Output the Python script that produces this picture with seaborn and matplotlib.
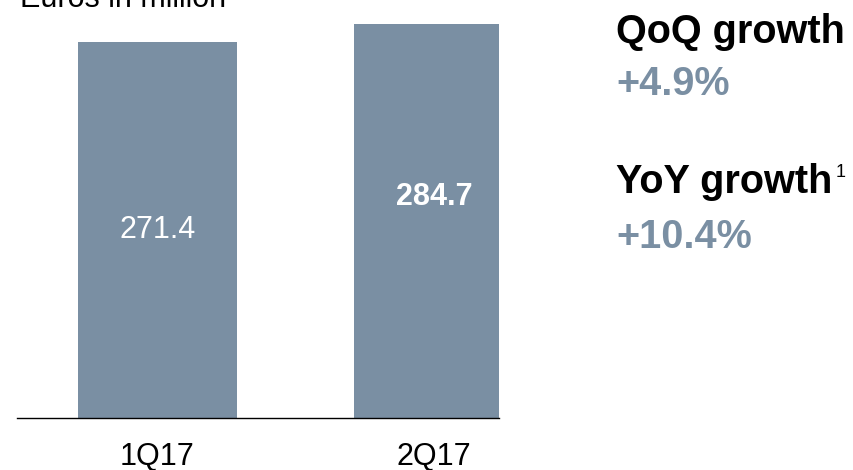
import matplotlib
matplotlib.use("Agg")
import matplotlib.pyplot as plt
import seaborn as sns
import pandas as pd

categories = ["1Q17", "2Q17"]
values = [271.4, 284.7]
value_labels = ["271.4", "284.7"]
label_bold = [False, True]
label_pos_frac = [0.50, 0.562]
unit_title = "Euros in million"
qoq_title = "QoQ growth"
qoq_value = "+4.9%"
yoy_title = "YoY growth"
yoy_value = "+10.4%"
footnote_mark = "1"

BAR = "#7A8FA3"

sns.set_theme(style="white")
plt.rcParams["font.family"] = ["Liberation Sans", "DejaVu Sans"]

W, H = 854, 470
fig = plt.figure(figsize=(W / 100, H / 100), dpi=100)
ax = fig.add_axes([17 / W, (H - 418) / H, (499 - 17) / W, 418 / H])

df = pd.DataFrame({"cat": categories, "val": values})
sns.barplot(data=df, x="cat", y="val", color=BAR, saturation=1, width=0.577, ax=ax)
for p in ax.patches:
    p.set_edgecolor("none")

ax.set_xlim(-0.508, 1.235)
ax.set_ylim(0, 302)
for s in ["top", "right", "left"]:
    ax.spines[s].set_visible(False)
ax.spines["bottom"].set_color("black")
ax.spines["bottom"].set_linewidth(1.0)
ax.set_yticks([])
ax.set_xlabel("")
ax.set_ylabel("")
ax.tick_params(axis="x", length=0, pad=17, labelsize=22, colors="black")

for i, (v, lab, b, f) in enumerate(zip(values, value_labels, label_bold, label_pos_frac)):
    ax.text(i, v * f, lab, ha="center", va="center", color="white", fontsize=22,
            fontweight="bold" if b else "normal")

fig.text(20 / W, 1 - 7 / H, unit_title, ha="left", va="baseline", fontsize=22, color="black")

xr = 616 / W
fs = 28.5
fig.text(xr, 1 - 43 / H, qoq_title, ha="left", va="baseline", fontsize=fs, fontweight="bold", color="black")
fig.text(xr, 1 - 95 / H, qoq_value, ha="left", va="baseline", fontsize=fs, fontweight="bold", color=BAR)
fig.text(xr, 1 - 193 / H, yoy_title, ha="left", va="baseline", fontsize=fs, fontweight="bold", color="black")
fig.text(836 / W, 1 - 177 / H, footnote_mark, ha="left", va="baseline", fontsize=13, color="black")
fig.text(xr, 1 - 248 / H, yoy_value, ha="left", va="baseline", fontsize=fs, fontweight="bold", color=BAR)

fig.savefig("out.png", dpi=100)
